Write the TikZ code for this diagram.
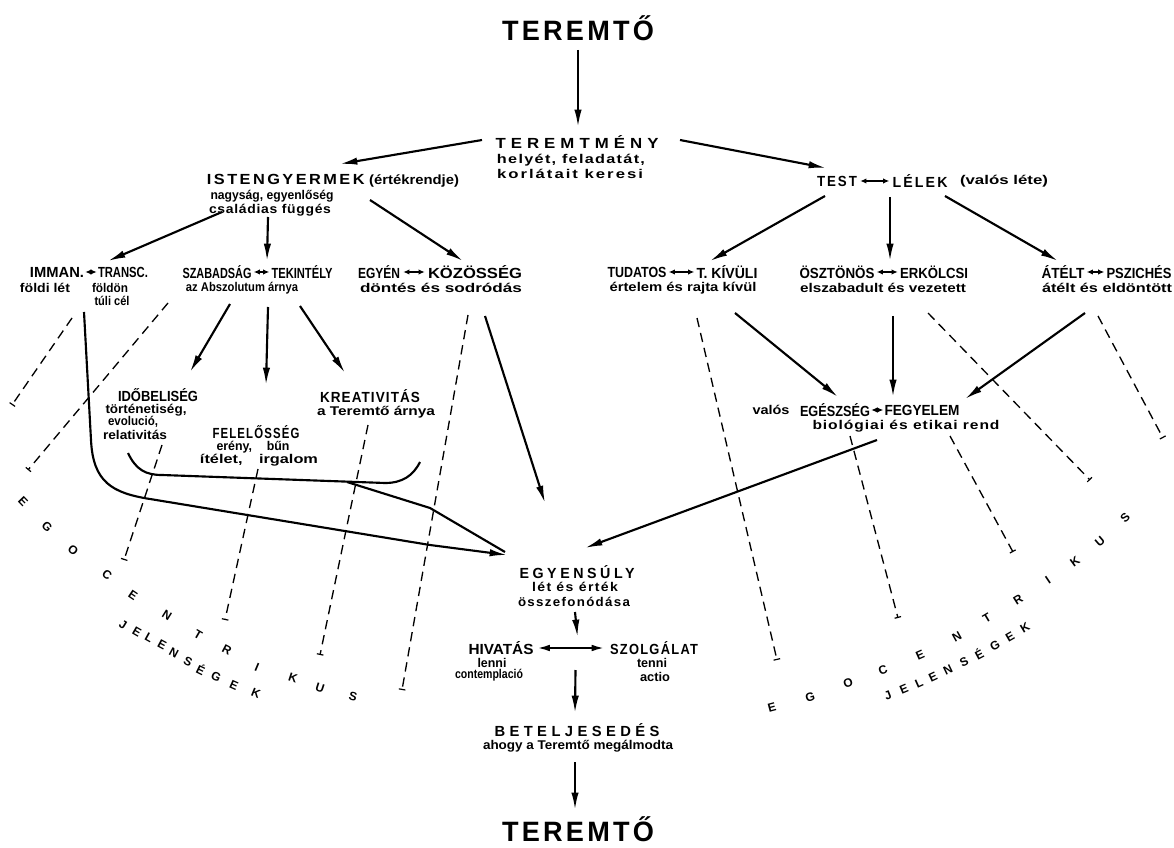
\documentclass[tikz,border=0pt]{standalone}
\usepackage{fontspec}
\usepackage{graphicx}
\setmainfont{Liberation Sans}
\usetikzlibrary{arrows.meta,calc}
\newdimen\pxu \pxu=0.75pt
\newcommand\W[2]{\resizebox{#1\pxu}{\height}{#2}}
\newcommand\SP[2]{{\addfontfeature{LetterSpace=#1}#2}}
\begin{document}
\begin{tikzpicture}[x=0.75pt,y=-0.75pt,
 big/.style={inner sep=0pt, anchor=base, font=\bfseries\fontsize{21}{23}\selectfont},
 ttl/.style={inner sep=0pt, font=\bfseries\fontsize{11}{12}\selectfont},
 sub/.style={inner sep=0pt, font=\bfseries\fontsize{9.5}{10}\selectfont},
 ltr/.style={inner sep=0pt, font=\bfseries\fontsize{9}{10}\selectfont},
 arr/.style={line width=1.6pt, -{Latex[length=13pt,width=5.5pt]}},
 darr/.style={line width=1pt, {Latex[length=4.5pt,width=4pt]}-{Latex[length=4.5pt,width=4pt]}},
 bdarr/.style={line width=1.3pt, {Latex[length=9pt,width=5pt]}-{Latex[length=9pt,width=5pt]}},
 dsh/.style={line width=1pt, dash pattern=on 7pt off 4.5pt, -{Bar[width=5pt,line width=0.9pt]}},
 solid line/.style={line width=1.6pt}]
\useasboundingbox[fill=white] (0,0) rectangle (1174,848);

% ---------- top ----------
\node[big] (t1) at (578,41) {\W{152}{\SP{12}{TEREMTŐ}}};
\node[ttl] (tm) at (577,142) {\W{163}{\SP{30}{TEREMTMÉNY}}};
\node[sub] (tm1) at (571,160) {\W{148}{\SP{8}{helyét, feladatát,}}};
\node[sub] (tm2) at (570,174) {\W{146}{\SP{12}{korlátait keresi}}};

\node[ttl] (ig) at (333,181) {\W{252}{\SP{15}{ISTENGYERMEK} {\fontsize{10}{11}\selectfont(értékrendje)}}};
\node[sub] (ig1) at (272,196) {\W{123}{nagyság, egyenlőség}};
\node[sub] (ig2) at (270,210) {\W{122}{\SP{5}{családias függés}}};

\node[ttl] (test) at (837,181) {\W{40}{\SP{15}{TEST}}};
\node[ttl] (lelek) at (920,181) {\W{55}{\SP{15}{LÉLEK}}};
\node[sub] (valos) at (1004,181) {\W{88}{(valós léte)}};

% ---------- row 3 ----------
\node[ttl] (imm) at (57,272) {\W{54}{IMMAN.}};
\node[ttl] (trn) at (123,272) {\W{50}{TRANSC.}};
\node[sub] (imm1) at (45,288) {\W{50}{földi lét}};
\node[sub] (trn1) at (110,288) {\W{36}{földön}};
\node[sub] (trn2) at (112,301) {\W{35}{túli cél}};

\node[ttl] (szab) at (217,272) {\W{69}{SZABADSÁG}};
\node[ttl] (tek) at (302,272) {\W{61}{TEKINTÉLY}};
\node[sub] (szab1) at (242,288) {\W{112}{az Abszolutum árnya}};

\node[ttl] (egy) at (379,272) {\W{42}{EGYÉN}};
\node[ttl] (koz) at (475,272) {\W{94}{KÖZÖSSÉG}};
\node[sub] (egy1) at (441,288) {\W{162}{döntés és sodródás}};

\node[ttl] (tud) at (637,272) {\W{59}{TUDATOS}};
\node[ttl] (tkv) at (727,272) {\W{61}{T. KÍVÜLI}};
\node[sub] (tud1) at (683,288) {\W{147}{értelem és rajta kívül}};

\node[ttl] (osz) at (837,272) {\W{75}{ÖSZTÖNÖS}};
\node[ttl] (erk) at (934,272) {\W{68}{ERKÖLCSI}};
\node[sub] (osz1) at (883,288) {\W{166}{elszabadult és vezetett}};

\node[ttl] (atl) at (1063,272) {\W{43}{ÁTÉLT}};
\node[ttl] (psz) at (1139,272) {\W{65}{PSZICHÉS}};
\node[sub] (atl1) at (1107,288) {\W{130}{átélt és eldöntött}};

% ---------- row 4 ----------
\node[ttl] (ido) at (158,395) {\W{80}{IDŐBELISÉG}};
\node[sub] (ido1) at (146,410) {\W{81}{történetiség,}};
\node[sub] (ido2) at (133,422) {\W{50}{evolució,}};
\node[sub] (ido3) at (135,435) {\W{64}{relativitás}};

\node[ttl] (fel) at (256,432) {\W{87}{\SP{10}{FELELŐSSÉG}}};
\node[sub] (fel1) at (253,447) {\W{73}{erény,\hspace{1.2em}bűn}};
\node[sub] (fel2) at (259,460) {\W{118}{ítélet,\hspace{1em}irgalom}};

\node[ttl] (kre) at (370,396) {\W{100}{\SP{8}{KREATIVITÁS}}};
\node[sub] (kre1) at (376,412) {\W{118}{a Teremtő árnya}};

\node[sub] (valos2) at (771,410) {\W{37}{valós}};
\node[ttl] (egs) at (835,410) {\W{70}{EGÉSZSÉG}};
\node[ttl] (fgy) at (922,410) {\W{75}{FEGYELEM}};
\node[sub] (egs1) at (906,426) {\W{187}{\SP{6}{biológiai és etikai rend}}};

% ---------- middle / bottom ----------
\node[ttl] (eq) at (577,572) {\W{115}{\SP{25}{EGYENSÚLY}}};
\node[sub] (eq1) at (575,587) {\W{86}{\SP{10}{lét és érték}}};
\node[sub] (eq2) at (574,602) {\W{112}{\SP{10}{összefonódása}}};

\node[ttl] (hiv) at (501,648) {\W{65}{HIVATÁS}};
\node[sub] (hiv1) at (492,663) {\W{29}{lenni}};
\node[sub] (hiv2) at (489,675) {\W{68}{contemplació}};
\node[ttl] (szo) at (654,648) {\W{88}{\SP{10}{SZOLGÁLAT}}};
\node[sub] (szo1) at (652,663) {\W{30}{tenni}};
\node[sub] (szo2) at (655,677) {\W{30}{actio}};

\node[ttl] (bet) at (577,730) {\W{165}{\SP{30}{BETELJESEDÉS}}};
\node[sub] (bet1) at (578,746) {\W{190}{ahogy a Teremtő megálmodta}};
\node[big] (t2) at (578,841) {\W{152}{\SP{12}{TEREMTŐ}}};

% ---------- double arrows inside labels ----------
\draw[darr] ($(test.east)+(3,0)$) -- ($(lelek.west)+(-3,0)$);
\draw[darr] ($(imm.east)+(1,0)$) -- ($(trn.west)+(-1,0)$);
\draw[darr] ($(szab.east)+(2,0)$) -- ($(tek.west)+(-2,0)$);
\draw[darr] ($(egy.east)+(3,0)$) -- ($(koz.west)+(-3,0)$);
\draw[darr] ($(tud.east)+(2,0)$) -- ($(tkv.west)+(-2,0)$);
\draw[darr] ($(osz.east)+(2,0)$) -- ($(erk.west)+(-2,0)$);
\draw[darr] ($(atl.east)+(2,0)$) -- ($(psz.west)+(-2,0)$);
\draw[darr] ($(egs.east)+(1,0)$) -- ($(fgy.west)+(-1,0)$);
\draw[bdarr] ($(hiv.east)+(4,0)$) -- ($(szo.west)+(-6,0)$);

% ---------- solid arrows ----------
\draw[arr] ($(t1.base)+(0,9)$) -- ($(tm)+(1,-15)$);
\draw[arr] ($(tm)+(-95,-2)$) -- ($(ig)+(7,-17)$);
\draw[arr] ($(tm)+(103,-2)$) -- ($(test)+(-11,-13)$);
\draw[arr] ($(ig1)+(-50,16)$) -- ($(imm)+(51,-11)$);
\draw[arr] ($(ig2)+(-2,7)$) -- ($(szab)+(50,-11)$);
\draw[arr] ($(ig)+(37,19)$) -- ($(koz)+(-12,-11)$);
\draw[arr] ($(test)+(-12,15)$) -- ($(tkv)+(-17,-11)$);
\draw[arr] ($(lelek)+(-30,16)$) -- ($(erk)+(-44,-11)$);
\draw[arr] ($(lelek)+(25,15)$) -- ($(atl)+(-5,-11)$);
\draw[arr] ($(szab1)+(-12,16)$) -- ($(ido)+(32,-23)$);
\draw[arr] ($(szab1)+(26,19)$) -- ($(fel)+(10,-47)$);
\draw[arr] ($(szab1)+(58,18)$) -- ($(kre)+(-25,-23)$);
\draw[arr] ($(egy1)+(44,28)$) -- ($(eq)+(-32,-69)$);
\draw[arr] ($(tud1)+(52,25)$) -- ($(egs)+(3,-13)$);
\draw[arr] ($(osz1)+(10,28)$) -- ($(fgy)+(-29,-13)$);
\draw[arr] ($(atl1)+(-22,25)$) -- ($(fgy)+(43,-11)$);
\draw[arr] ($(egs1)+(-29,14)$) -- ($(eq)+(8,-24)$);
\draw[arr] ($(eq2)+(1,10)$) -- ($(hiv)!0.5!(szo)+(0,-11)$);
\draw[arr] ($(hiv)!0.5!(szo)+(-2,22)$) -- ($(bet)+(-2,-17)$);
\draw[arr] ($(bet1)+(-3,16)$) -- ($(t2.north)+(-3,-6)$);

% long line from IMMAN. to EGYENSÚLY
\draw[arr] ($(imm1)+(39,24)$) -- (91,440) .. controls (93,482) and (112,493) .. (150,499)
   -- (430,545) -- ($(eq)+(-70,-17)$);
% bracket under row 4 and its line
\draw[solid line] (128,453) .. controls (136,470) and (146,475) .. (162,475)
   -- (385,483) .. controls (402,483) and (413,476) .. (420,462);
\coordinate (br) at (347,482);
\draw[solid line] (br) -- (430,508) -- ($(eq)+(-72,-20)$);

% ---------- dashed lines ----------
\coordinate (d1) at (12,405);
\coordinate (d2) at (28,470);
\coordinate (d3) at (124,560);
\coordinate (d4) at (225,620);
\coordinate (d5) at (320,655);
\coordinate (d6) at (402,690);
\coordinate (r1) at (777,660);
\coordinate (r2) at (898,618);
\coordinate (r3) at (1013,552);
\coordinate (r4) at (1090,480);
\coordinate (r5) at (1163,438);
\draw[dsh] ($(imm1)+(27,30)$) -- (d1);
\draw[dsh] ($(trn2)+(56,2)$) -- (d2);
\draw[dsh] ($(ido3)+(27,10)$) -- (d3);
\draw[dsh] ($(fel2)+(-1,9)$) -- (d4);
\draw[dsh] ($(kre1)+(-8,13)$) -- (d5);
\draw[dsh] ($(egy1)+(27,27)$) -- (d6);
\draw[dsh] ($(tud1)+(14,30)$) -- (r1);
\draw[dsh] ($(egs1)+(-56,10)$) -- (r2);
\draw[dsh] ($(egs1)+(44,10)$) -- (r3);
\draw[dsh] ($(osz1)+(45,25)$) -- (r4);
\draw[dsh] ($(atl1)+(-9,28)$) -- (r5);

% ---------- EGOCENTRIKUS JELENSÉGEK (left) ----------
\foreach \x/\y/\a/\l [count=\i] in {23/502/-46/E, 47/527/-44/G, 73/550/-39/O, 107/575/-37/C,
  133/595/-34/E, 167/615/-32/N, 198/635/-30/T, 227/650/-28/R, 257/667/-23/I,
  293/678/-18/K, 320/688/-18/U, 353/697/-15/S}
  \node[ltr, rotate=\a] (la\i) at (\x,\y) {\l};
\foreach \x/\y/\a/\l [count=\i] in {123/625/-31/J, 137/632/-30/E, 149/638/-29/L, 162/645/-28/E,
  174/653/-28/N, 188/662/-27/S, 201/669/-26/É, 216/677/-25/G, 234/685/-24/E, 256/693/-22/K}
  \node[ltr, rotate=\a] (lb\i) at (\x,\y) {\l};
% ---------- EGOCENTRIKUS JELENSÉGEK (right) ----------
\foreach \x/\y/\a/\l [count=\i] in {772/707/15/E, 810/697/17/G, 848/683/20/O, 883/670/21/C,
  920/655/24/E, 957/637/29/N, 987/618/31/T, 1018/600/32/R, 1048/580/34/I,
  1075/562/36/K, 1100/542/41/U, 1125/518/44/S}
  \node[ltr, rotate=\a] (ra\i) at (\x,\y) {\l};
\foreach \x/\y/\a/\l [count=\i] in {888/695/22/J, 904/689/23/E, 919/683/24/L, 933/677/25/E,
  948/670/26/N, 964/662/27/S, 979/654/28/É, 995/646/29/G, 1010/637/30/E, 1025/628/31/K}
  \node[ltr, rotate=\a] (rb\i) at (\x,\y) {\l};
\end{tikzpicture}
\end{document}
